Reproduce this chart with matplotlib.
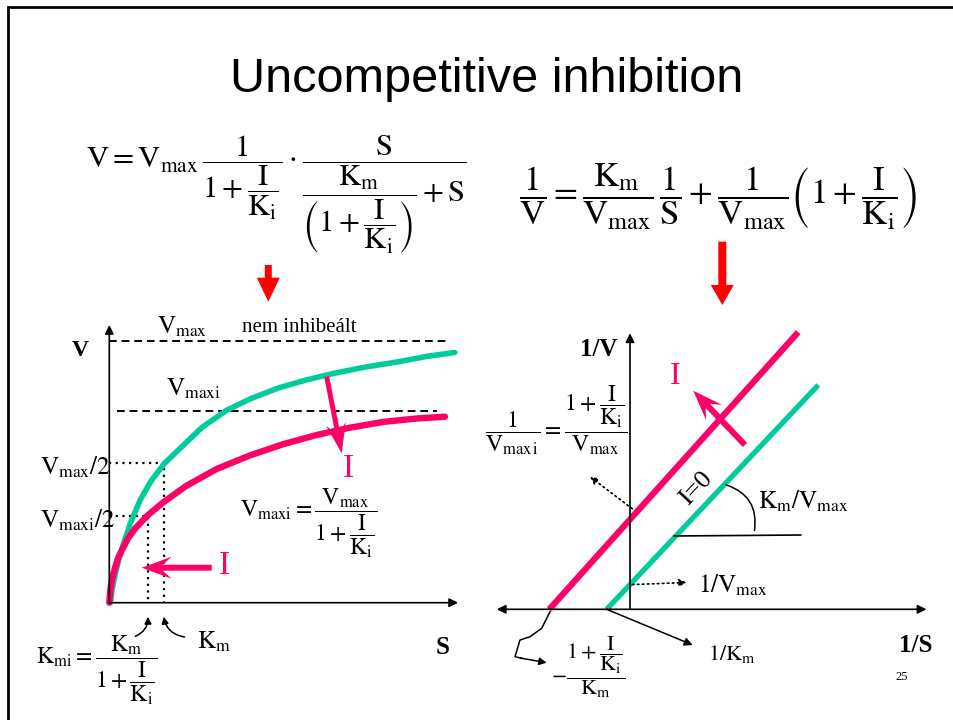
import matplotlib
matplotlib.use("Agg")
import matplotlib.pyplot as plt
import numpy as np
from matplotlib.patches import FancyArrow, FancyArrowPatch

plt.rcParams['font.family'] = ['Liberation Serif', 'DejaVu Serif']
plt.rcParams['mathtext.fontset'] = 'stix'

GREEN = '#00CC99'
PINK = '#FF0066'
RED = '#FF0000'

# V vs S (S in units of Km, V in units of Vmax)
s_free = [0.02, 0.05, 0.10, 0.18, 0.26, 0.38, 0.56, 0.75, 1.0, 1.35, 1.7, 2.15, 2.6, 3.1,
          3.6, 4.1, 4.7, 5.3, 5.8, 6.32]
v_free = [0.0, 0.05, 0.10, 0.17, 0.225, 0.30, 0.39, 0.46, 0.53, 0.60, 0.67, 0.735, 0.78, 0.82,
          0.85, 0.875, 0.90, 0.92, 0.94, 0.955]
s_inh = [0.0, 0.02, 0.05, 0.10, 0.16, 0.24, 0.34, 0.48, 0.71, 1.0, 1.4, 1.96, 2.57, 3.18,
         3.79, 4.40, 5.01, 5.62, 6.14]
v_inh = [0.0, 0.05, 0.09, 0.13, 0.17, 0.205, 0.245, 0.285, 0.335, 0.385, 0.445, 0.51, 0.562,
         0.605, 0.64, 0.668, 0.69, 0.703, 0.71]
vmax, vmax_i = 1.0, 0.733
half_vmax, half_vmax_i = 0.532, 0.331
km, km_i = 1.0, 0.70

# Lineweaver-Burk lines (1/S, 1/V), end points
inv_s_free = [-1.0, 8.07]
inv_v_free = [0.0, 8.41]
inv_s_inh = [-3.46, 7.21]
inv_v_inh = [0.0, 10.39]

W, H = 954, 720
fig = plt.figure(figsize=(W / 100, H / 100), dpi=100)


def data_axes(x0, y0, sx, sy, xlim, ylim):
    # x0, y0: pixel of the data origin, sx, sy: pixels per data unit
    ax = fig.add_axes([(x0 + xlim[0] * sx) / W, (H - y0 + ylim[0] * sy) / H,
                       (xlim[1] - xlim[0]) * sx / W, (ylim[1] - ylim[0]) * sy / H])
    ax.set_xlim(xlim)
    ax.set_ylim(ylim)
    ax.axis('off')
    return ax


axL = data_axes(109.3, 602.7, 54.67, 262, (-0.5, 7.0), (-0.2, 1.2))
axR = data_axes(630, 609.3, 23.33, 26.67, (-6.5, 13.5), (-1.5, 11.0))
page = fig.add_axes([0, 0, 1, 1])
page.set_xlim(0, W)
page.set_ylim(H, 0)
page.axis('off')

axis_arrow = dict(arrowstyle='-|>', color='k', lw=1.2, shrinkA=0, shrinkB=0, mutation_scale=13)
dots = (0, (1, 2))
dashes = (0, (4, 2.5))

# ---- left plot
axL.plot([0, 6.18], [vmax, vmax], color='k', ls=dashes, lw=1.4)
axL.plot([0.135, 5.99], [vmax_i, vmax_i], color='k', ls=dashes, lw=1.4)
axL.plot([0, km, km], [half_vmax, half_vmax, 0], color='k', ls=dots, lw=1.6)
axL.plot([0, km_i, km_i], [half_vmax_i, half_vmax_i, 0], color='k', ls=dots, lw=1.6)
axL.plot(s_free, v_free, color=GREEN, lw=4, solid_capstyle='round', solid_joinstyle='round',
         clip_on=False)
axL.plot(s_inh, v_inh, color=PINK, lw=4.6, solid_capstyle='round', solid_joinstyle='round',
         clip_on=False)
axL.annotate('', xy=(6.38, 0), xytext=(0, 0), arrowprops=axis_arrow)
axL.annotate('', xy=(0, 1.06), xytext=(0, 0), arrowprops=axis_arrow)

# ---- right plot
axR.plot(inv_s_inh, inv_v_inh, color=PINK, lw=4.5, solid_capstyle='butt', clip_on=False)
axR.plot(inv_s_free, inv_v_free, color=GREEN, lw=3.8, solid_capstyle='butt', clip_on=False)
axR.annotate('', xy=(12.71, 0), xytext=(-5.71, 0),
             arrowprops=dict(axis_arrow, arrowstyle='<|-|>'))
axR.annotate('', xy=(0, 10.35), xytext=(0, 0), arrowprops=axis_arrow)

# ---- slide frame and title
page.plot([8, 8, 960], [725, 7, 7], color='k', lw=2, solid_joinstyle='miter')
page.text(487, 92, 'Uncompetitive inhibition', family='Liberation Sans',
          fontsize=35, ha='center', va='baseline')

eq_left = (r'$\mathrm{V} = \mathrm{V_{max}}\,\dfrac{1}{1+\dfrac{\mathrm{I}}{\mathrm{K_i}}}\cdot'
           r'\dfrac{\mathrm{S}}{\dfrac{\mathrm{K_m}}{\left(1+\dfrac{\mathrm{I}}{\mathrm{K_i}}\right)}+\mathrm{S}}$')
eq_right = (r'$\dfrac{1}{\mathrm{V}} = \dfrac{\mathrm{K_m}}{\mathrm{V_{max}}}\,\dfrac{1}{\mathrm{S}}'
            r' + \dfrac{1}{\mathrm{V_{max}}}\left(1+\dfrac{\mathrm{I}}{\mathrm{K_i}}\right)$')
page.text(276, 134, eq_left, fontsize=22, ha='center', va='top')
page.text(718, 197, eq_right, fontsize=25, ha='center', va='center')

page.add_patch(FancyArrow(268.3, 265, 0, 36.7, width=7, head_width=23, head_length=24,
                          length_includes_head=True, color=RED, lw=0))
page.add_patch(FancyArrow(722.3, 241.7, 0, 63.3, width=8, head_width=23, head_length=20,
                          length_includes_head=True, color=RED, lw=0))

# ---- left plot labels
page.text(80, 350, 'V', fontweight='bold', fontsize=17, ha='center', va='center')
page.text(157, 327, r'$\mathrm{V_{max}}$', fontsize=18, ha='left', va='center')
page.text(242, 332, 'nem inhibeált', fontsize=15, ha='left', va='baseline')
page.text(166, 389, r'$\mathrm{V_{maxi}}$', fontsize=18, ha='left', va='center')
page.text(40, 467, r'$\mathrm{V_{max}/2}$', fontsize=18, ha='left', va='center')
page.text(40, 520, r'$\mathrm{V_{maxi}/2}$', fontsize=18, ha='left', va='center')
page.text(348, 469, 'I', color=PINK, fontsize=24, ha='center', va='center')
page.text(224, 566, 'I', color=PINK, fontsize=24, ha='center', va='center')
page.add_patch(FancyArrow(326.7, 376.7, 15, 76.6, width=5, head_width=20, head_length=30,
                          overhang=0.3, length_includes_head=True, color=PINK, lw=0))
page.add_patch(FancyArrow(211.7, 567.7, -70, 0, width=6, head_width=22, head_length=30,
                          overhang=0.3, length_includes_head=True, color=PINK, lw=0))
page.text(240, 487, r'$\mathrm{V_{maxi}} = \dfrac{\mathrm{V_{max}}}{1+\dfrac{\mathrm{I}}{\mathrm{K_i}}}$',
          fontsize=17, ha='left', va='top')
page.text(197, 642, r'$\mathrm{K_m}$', fontsize=18, ha='left', va='center')
page.text(443, 648, 'S', fontweight='bold', fontsize=18, ha='center', va='center')
page.text(36, 634, r'$\mathrm{K_{mi}} = \dfrac{\mathrm{K_m}}{1+\dfrac{\mathrm{I}}{\mathrm{K_i}}}$',
          fontsize=17, ha='left', va='top')
page.add_patch(FancyArrowPatch((132.7, 637.3), (147.7, 614), connectionstyle='arc3,rad=0.4',
                               arrowstyle='-|>', mutation_scale=10, lw=1.1, color='k'))
page.add_patch(FancyArrowPatch((187.3, 637.3), (163.3, 614), connectionstyle='arc3,rad=-0.4',
                               arrowstyle='-|>', mutation_scale=10, lw=1.1, color='k'))

# ---- right plot labels
page.text(599, 350, '1/V', fontweight='bold', fontsize=18, ha='center', va='center')
page.text(675, 377, 'I', color=PINK, fontsize=23, ha='center', va='center')
page.add_patch(FancyArrow(745, 445, -51.7, -54.3, width=6, head_width=22, head_length=30,
                          overhang=0.3, length_includes_head=True, color=PINK, lw=0))
page.text(485, 384, r'$\dfrac{1}{\mathrm{V_{max\,i}}} = \dfrac{1+\dfrac{\mathrm{I}}{\mathrm{K_i}}}{\mathrm{V_{max}}}$',
          fontsize=17, ha='left', va='top')
dotted_arrow = dict(arrowstyle='-|>', color='k', lw=1.2, ls=dots, shrinkA=0, shrinkB=0,
                    mutation_scale=11)
y0_inh = np.interp(0, inv_s_inh, inv_v_inh)
y0_free = np.interp(0, inv_s_free, inv_v_free)
axR.annotate('', xy=(590, 476.7), xycoords=page.transData, xytext=(0.1, y0_inh + 0.4),
             textcoords=axR.transData, arrowprops=dotted_arrow)
axR.annotate('', xy=(686.7, 582.5), xycoords=page.transData, xytext=(0.1, y0_free),
             textcoords=axR.transData, arrowprops=dotted_arrow)
axR.annotate('', xy=(692.7, 645), xycoords=page.transData, xytext=(inv_s_free[0], 0),
             textcoords=axR.transData,
             arrowprops=dict(arrowstyle='-|>', color='k', lw=1.1, shrinkA=0, shrinkB=0,
                             mutation_scale=12))
page.text(696, 488, 'I=0', fontsize=19, rotation=47, ha='center', va='center')
page.add_patch(FancyArrowPatch((723.3, 484), (754, 533.3), connectionstyle='arc3,rad=-0.45',
                               arrowstyle='-', lw=1.1, color='k'))
page.plot([674, 800.7], [536, 535], color='k', lw=1.2)
page.text(758, 501, r'$\mathrm{K_m/V_{max}}$', fontsize=18, ha='left', va='center')
page.text(698, 585, r'$\mathrm{1/V_{max}}$', fontsize=18, ha='left', va='center')
page.text(708, 654, r'$\mathrm{1/K_m}$', fontsize=16, ha='left', va='center')
page.plot([550, 541.7, 530, 520, 515, 522], [611.7, 628.3, 636.7, 640, 656.7, 658.3],
          color='k', lw=1.1)
page.annotate('', xy=(546.7, 662.7), xytext=(520, 658),
              arrowprops=dict(arrowstyle='-|>', color='k', lw=1.1, shrinkA=0, shrinkB=0,
                              mutation_scale=11))
page.text(551, 634, r'$-\dfrac{1+\dfrac{\mathrm{I}}{\mathrm{K_i}}}{\mathrm{K_m}}$',
          fontsize=16, ha='left', va='top')
page.text(916, 645, '1/S', fontweight='bold', fontsize=18, ha='center', va='center')
page.text(902, 677, '25', fontsize=9, ha='center', va='center')

fig.savefig('out.png', dpi=100)
